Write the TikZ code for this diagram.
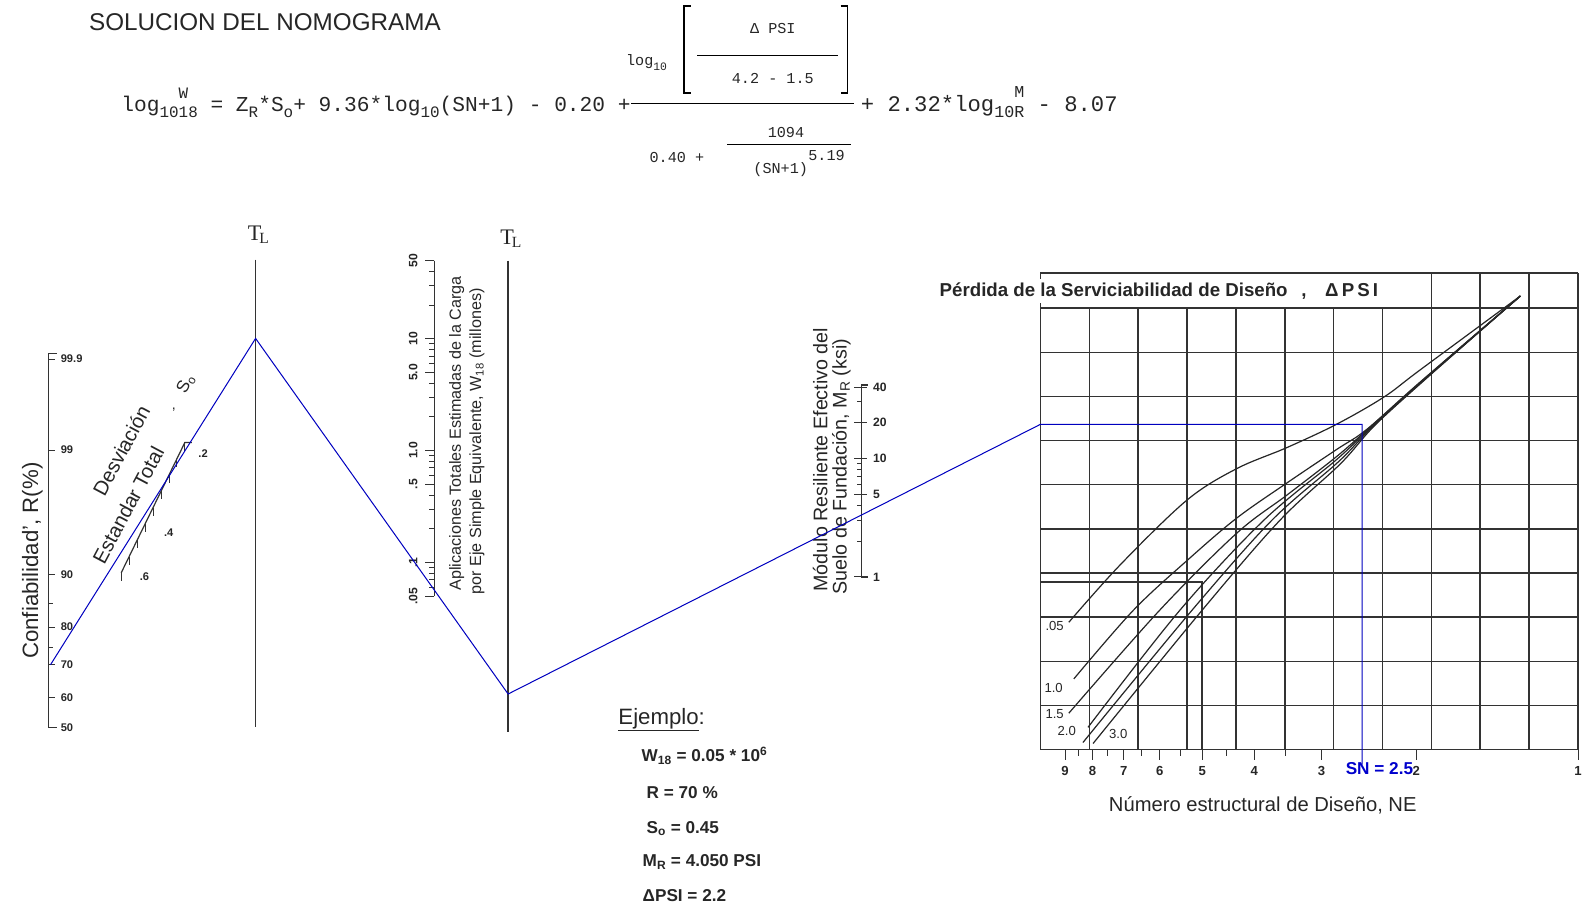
\documentclass[tikz,border=0pt]{standalone}
\usepackage{fontspec}
\usepackage{graphicx}
\setmainfont{Liberation Sans}
\setmonofont{Liberation Mono}
\newfontfamily\tlfont{Liberation Serif}
\usetikzlibrary{calc}
\newcommand{\fs}[1]{\fontsize{#1}{#1}\selectfont}
\newcommand{\lo}[1]{\raisebox{-0.3em}{\scalebox{0.75}{#1}}}
\newcommand{\hi}[1]{\raisebox{0.6em}{\scalebox{0.75}{#1}}}
\tikzset{
  ax/.style={line width=1.5pt,black!80},
  tk/.style={line width=0.9pt,black!80},
  sol/.style={line width=1pt,blue!75!black},
  grd/.style={line width=1.5pt,black!80},
  crv/.style={line width=1.2pt,black!85},
  fmlbig/.style={font=\ttfamily\fs{21}},
  fml/.style={font=\ttfamily\fs{15}},
  scl/.style={font=\bfseries\fs{11}},
  cl/.style={font=\fs{13}}
}
\begin{document}
\begin{tikzpicture}[x=1pt,y=-1pt,every node/.style={inner sep=0pt,text=black!85}]
\useasboundingbox (0,0) rectangle (1568,904);
\node[anchor=west,font=\fs{24}] (title) at (88,22) {SOLUCION DEL NOMOGRAMA};
% formula
\node[fmlbig,anchor=base west] (lhs) at (120,110) {log\lo{10}\rlap{\hi{W}}\lo{18} = Z\lo{R}*S\lo{o}+ 9.36*log\lo{10}(SN+1) - 0.20 +};
\draw[line width=1pt] (625,102) -- (845,102);
\node[fml] (nlog) at (640,62) {log\lo{10}};
\draw[line width=1.2pt] (684,6) -- (677,6) -- (677,92) -- (684,92);
\draw[line width=1.2pt] (832,6) -- (839,6) -- (839,92) -- (832,92);
\node[fml] (dpsi) at (765,28) {Δ PSI};
\draw (690,55) -- (830,55);
\node[fml] (num) at (765,78) {4.2 - 1.5};
\node[fml] (d040) at (670,156) {0.40 +};
\node[fml] (d1094) at (778,131) {1094};
\draw (720,143) -- (842,143);
\node[fml,anchor=east] (dsn) at (800,168) {(SN+1)};
\node[fml,anchor=west] (dexp) at (800,154) {5.19};
\node[fmlbig,anchor=base west,font=\ttfamily\fs{22}] (rhs) at (852,110) {+ 2.32*log\lo{10}\rlap{\hi{M}}\lo{R} - 8.07};
% reliability scale
\draw[ax] (56,350) -- (48,350) -- (48,720) -- (56,720);
\foreach \z/\t [count=\k] in {3.090/99.9,2.326/99,1.282/90,0.842/80,0.524/70,0.253/60,0/50} {
  \draw[tk] (48,720-118*\z) -- ++(6,0);
  \node[scl,anchor=west] (rl\k) at (60,720-118*\z) {\t};
}
\foreach \z in {1.036,0.674} \draw[tk] (48,720-118*\z) -- ++(4,0);
\node[rotate=90,font=\fs{22}] (rlab) at (32,555) {Confiabilidad', R(\%)};
% standard deviation
\draw[tk,line width=1.2pt] (190,438) -- (183,438) -- (120,567);
\foreach \i in {0,...,8} \draw[tk] ($(183,438)!\i/8!(120,567)$) -- ++(0,8);
\node[scl] (so2) at (201,449) {.2};
\node[scl] (so4) at (167,527) {.4};
\node[scl] (so6) at (143,571) {.6};
\node[rotate=62,font=\fs{20}] (desv) at (120,446) {Desviación};
\node[rotate=62,font=\fs{20}] (estd) at (127,500) {Estandar Total};
\node[rotate=62,font=\fs{17}] (so) at (184,380) {S\textsubscript{o}};
\node[font=\fs{14}] (comma) at (172,406) {,};
% turning lines
\draw[ax] (253,257) -- (253,720);
\node[font=\tlfont\fs{22}] (tl1) at (256,232) {T\kern-2pt\textsubscript{L}};
\draw[ax] (503,258) -- (503,725);
\node[font=\tlfont\fs{22}] (tl2) at (506,236) {T\kern-2pt\textsubscript{L}};
% traffic scale
\draw[ax] (430,258) -- (430,590);
\foreach \v in {0.06,0.07,0.08,0.09,0.2,0.3,0.4,0.6,0.7,0.8,0.9,2,3,4,6,7,8,9,20,30,40}
  \draw[tk] (430,{590-110.7*log10(\v/0.05)}) -- ++(-5,0);
\foreach \v/\t [count=\k] in {0.05/.05,0.1/.1,0.5/.5,1/1.0,5/5.0,10/10,50/50} {
  \draw[tk] (430,{590-110.7*log10(\v/0.05)}) -- ++(-9,0);
  \node[scl,rotate=90,font=\bfseries\fs{12}] (wl\k) at (409,{590-110.7*log10(\v/0.05)}) {\t};
}
\node[rotate=90,font=\fs{16}] (wlab1) at (452,429) {Aplicaciones Totales Estimadas de la Carga};
\node[rotate=90,font=\fs{16}] (wlab2) at (472,437) {por Eje Simple Equivalente, W\textsubscript{18} (millones)};
% resilient modulus scale
\draw[ax] (859,381) -- (853,381) -- (853,571) -- (859,571);
\foreach \v in {2,3,4,6,7,8,9,30}
  \draw[tk] (853,{571-117.3*log10(\v)}) -- ++(-5,0);
\foreach \v [count=\k] in {1,5,10,20,40} {
  \draw[tk] (853,{571-117.3*log10(\v)}) -- ++(-8,0);
  \draw[tk] (853,{571-117.3*log10(\v)}) -- ++(5,0);
  \node[scl,anchor=west,font=\bfseries\fs{12}] (ml\k) at (864,{571-117.3*log10(\v)}) {\v};
}
\node[rotate=90,font=\fs{19.5}] (mlab1) at (812,455) {Módulo Resiliente Efectivo del};
\node[rotate=90,font=\fs{19.5}] (mlab2) at (833,462) {Suelo de Fundación, M\textsubscript{R} (ksi)};
% design chart
\draw[grd] (1030,276) -- (1030,270) -- (1562,270);
\draw[grd] (1030,300) -- (1030,742);
\foreach \i in {1,...,7} \draw[grd] (1030+48.36*\i,305) -- (1030+48.36*\i,742);
\foreach \i in {8,...,11} \draw[grd] (1030+48.36*\i,270) -- (1030+48.36*\i,742);
\foreach \j in {0,...,10} \draw[grd] (1030,305+43.7*\j) -- (1562,305+43.7*\j);
\draw[grd] (1030,576) -- (1190,576) -- (1190,742);
\node[anchor=west,font=\bfseries\fs{18.5}] (ctitle) at (930,287) {Pérdida de la Serviciabilidad de Diseño};
\node[anchor=west,font=\bfseries\fs{18.5}] (cdpsi) at (1288,288) {,\quad Δ\,P\,S\,I};
\foreach \n in {2,...,9} {
  \draw[tk] ({1562-532*log10(\n)},742) -- ++(0,10);
  \node[scl,font=\bfseries\fs{13}] (sn\n) at ({1562-532*log10(\n)},763) {\n};
}
\foreach \n in {3.5,4.5,5.5,6.5,7.5,8.5} \draw[tk] ({1562-532*log10(\n)},742) -- ++(0,6);
\draw[tk] (1562,742) -- (1562,752);
\node[scl,font=\bfseries\fs{13}] (sn1) at (1562,763) {1};
\draw[crv] plot[smooth,tension=0.55] coordinates {(1058,616) (1109,559) (1175,495) (1224,464) (1274,443) (1323,420) (1370,393) (1406,366) (1505,293)};
\draw[crv] plot[smooth,tension=0.55] coordinates {(1063,672) (1122,604) (1176,554) (1224,513) (1274,478) (1323,445) (1353,425) (1406,378) (1505,293)};
\draw[crv] plot[smooth,tension=0.55] coordinates {(1058,706) (1148,604) (1224,528) (1274,490) (1323,452) (1355,424) (1410,375) (1505,293)};
\draw[crv] plot[smooth,tension=0.55] coordinates {(1077,720) (1168,604) (1251,515) (1323,455) (1357,423) (1412,374) (1505,293)};
\draw[crv] plot[smooth,tension=0.55] coordinates {(1072,735) (1180,604) (1259,515) (1325,457) (1359,422) (1414,372) (1505,293)};
\draw[crv] plot[smooth,tension=0.55] coordinates {(1082,736) (1190,604) (1267,515) (1327,459) (1361,421) (1416,371) (1505,293)};
\node[cl] (c05) at (1044,620) {.05};
\node[cl] (c10) at (1043,681) {1.0};
\node[cl] (c15) at (1044,707) {1.5};
\node[cl] (c20) at (1056,724) {2.0};
\node[cl] (c30) at (1107,727) {3.0};
\node[font=\fs{20}] (nelab) at (1250,797) {Número estructural de Diseño, NE};
% solution path
\coordinate (pR) at (50,658);
\coordinate (pT1) at (253,335);
\coordinate (pT2) at (503,687);
\coordinate (pM) at (1030,420);
\coordinate (pX) at ({1562-532*log10(2.52)},420);
\coordinate (pSN) at ({1562-532*log10(2.52)},757);
\draw[sol] (pR) -- (pT1) -- (pT2) -- (pM) -- (pX) -- (pSN);
\node[anchor=east,font=\bfseries\fs{17},text=blue!80!black] (snlab) at (1399,761) {SN = 2.5};
% example
\node[anchor=west,font=\fs{22}] (ej) at (612,712) {\underline{Ejemplo}:};
\node[anchor=west,font=\bfseries\fs{17}] (ex1) at (635,748) {W\textsubscript{18} = 0.05 * 10\textsuperscript{6}};
\node[anchor=west,font=\bfseries\fs{17}] (ex2) at (640,785) {R = 70 \%};
\node[anchor=west,font=\bfseries\fs{17}] (ex3) at (640,820) {S\textsubscript{o} = 0.45};
\node[anchor=west,font=\bfseries\fs{17}] (ex4) at (636,853) {M\textsubscript{R} = 4.050 PSI};
\node[anchor=west,font=\bfseries\fs{17}] (ex5) at (636,887) {ΔPSI = 2.2};
\end{tikzpicture}
\end{document}
